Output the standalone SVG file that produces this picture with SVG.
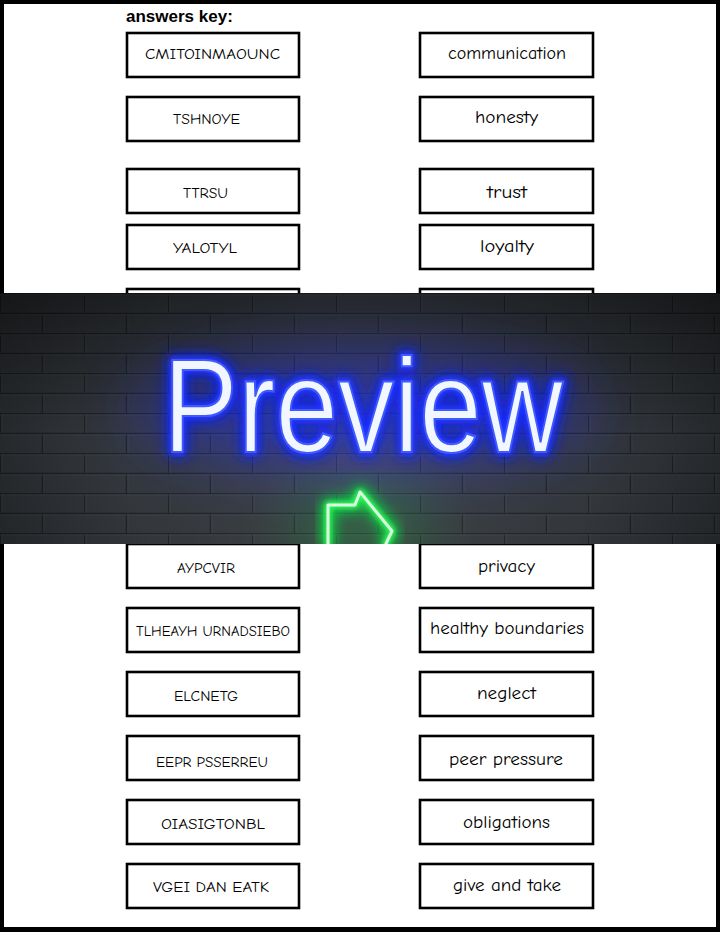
<svg xmlns="http://www.w3.org/2000/svg" width="720" height="932" viewBox="0 0 720 932">
<style>
.box{fill:#fff;stroke:#000;stroke-width:2.6}
.q{font-family:"Comic Sans MS","Comic Neue","Noto Sans","Liberation Sans",sans-serif;font-size:13.5px;fill:#000;text-anchor:start}
.a{font-family:"Comic Sans MS","Comic Neue","Noto Sans","Liberation Sans",sans-serif;font-size:17px;fill:#000;text-anchor:start}
.title{font-family:"Liberation Sans","Arial",sans-serif;font-weight:bold;font-size:17px;fill:#000}
.neon{font-family:"Liberation Sans",Arial,sans-serif;font-size:134px}
</style>
<defs>
<pattern id="bricks" x="0" y="293" width="84" height="40" patternUnits="userSpaceOnUse">
<rect width="84" height="40" fill="#383c41"/>
<path d="M0 0.5H84M0 20.5H84M0.5 0V20M42.5 20V40" stroke="#23262a" stroke-width="1.5" fill="none"/>
<path d="M0 2H84M0 22H84M2 1V20M44 21V40" stroke="#44494f" stroke-width="0.7" fill="none"/>
</pattern>
<radialGradient id="shade" cx="360" cy="450" r="420" gradientUnits="userSpaceOnUse">
<stop offset="0" stop-color="#ffffff" stop-opacity="0.10"/>
<stop offset="0.55" stop-color="#000000" stop-opacity="0.05"/>
<stop offset="1" stop-color="#000000" stop-opacity="0.45"/>
</radialGradient>
<linearGradient id="vshade" x1="0" y1="293" x2="0" y2="544" gradientUnits="userSpaceOnUse">
<stop offset="0" stop-color="#000" stop-opacity="0.4"/>
<stop offset="0.55" stop-color="#000" stop-opacity="0"/>
<stop offset="1" stop-color="#000" stop-opacity="0.05"/>
</linearGradient>
<filter id="glow" x="-20%" y="-40%" width="140%" height="180%">
<feGaussianBlur stdDeviation="7"/>
</filter>
<filter id="glow2" x="-20%" y="-40%" width="140%" height="180%">
<feGaussianBlur stdDeviation="2.5"/>
</filter>
<filter id="wide" x="-50%" y="-50%" width="200%" height="200%">
<feGaussianBlur stdDeviation="30"/>
</filter>
<clipPath id="banner"><rect x="0" y="293" width="720" height="251"/></clipPath>
</defs>

<rect x="0" y="0" width="720" height="932" fill="#000"/>
<rect x="4" y="4" width="712" height="923" fill="#fff"/>

<text class="title" x="126" y="22">answers key:</text>

<g id="nodes">
<g id="q1"><rect class="box" x="127" y="33" width="172" height="44"/><text class="q" x="145" y="59" textLength="135" lengthAdjust="spacingAndGlyphs">CMITOINMAOUNC</text></g>
<g id="a1"><rect class="box" x="420" y="33" width="173" height="44"/><text class="a" x="448" y="59" textLength="118" lengthAdjust="spacingAndGlyphs">communication</text></g>
<g id="q2"><rect class="box" x="127" y="97" width="172" height="44"/><text class="q" x="173" y="124" textLength="67" lengthAdjust="spacingAndGlyphs">TSHNOYE</text></g>
<g id="a2"><rect class="box" x="420" y="97" width="173" height="44"/><text class="a" x="475" y="123" textLength="63" lengthAdjust="spacingAndGlyphs">honesty</text></g>
<g id="q3"><rect class="box" x="127" y="169" width="172" height="44"/><text class="q" x="183" y="198" textLength="45" lengthAdjust="spacingAndGlyphs">TTRSU</text></g>
<g id="a3"><rect class="box" x="420" y="169" width="173" height="44"/><text class="a" x="487" y="198" textLength="40" lengthAdjust="spacingAndGlyphs">trust</text></g>
<g id="q4"><rect class="box" x="127" y="225" width="172" height="44"/><text class="q" x="173" y="253" textLength="64" lengthAdjust="spacingAndGlyphs">YALOTYL</text></g>
<g id="a4"><rect class="box" x="420" y="225" width="173" height="44"/><text class="a" x="480" y="252" textLength="54" lengthAdjust="spacingAndGlyphs">loyalty</text></g>
<g id="q5"><rect class="box" x="127" y="289" width="172" height="44"/></g>
<g id="a5"><rect class="box" x="420" y="289" width="173" height="44"/></g>
<g id="q9"><rect class="box" x="127" y="544" width="172" height="44"/><text class="q" x="177" y="573" textLength="58" lengthAdjust="spacingAndGlyphs">AYPCVIR</text></g>
<g id="a9"><rect class="box" x="420" y="544" width="173" height="44"/><text class="a" x="478" y="572" textLength="57" lengthAdjust="spacingAndGlyphs">privacy</text></g>
<g id="q10"><rect class="box" x="127" y="608" width="172" height="44"/><text class="q" x="136" y="636" textLength="154" lengthAdjust="spacingAndGlyphs">TLHEAYH URNADSIEBO</text></g>
<g id="a10"><rect class="box" x="420" y="608" width="173" height="44"/><text class="a" x="430" y="634" textLength="154" lengthAdjust="spacingAndGlyphs">healthy boundaries</text></g>
<g id="q11"><rect class="box" x="127" y="672" width="172" height="44"/><text class="q" x="174" y="701" textLength="64" lengthAdjust="spacingAndGlyphs">ELCNETG</text></g>
<g id="a11"><rect class="box" x="420" y="672" width="173" height="44"/><text class="a" x="477" y="699" textLength="59" lengthAdjust="spacingAndGlyphs">neglect</text></g>
<g id="q12"><rect class="box" x="127" y="736" width="172" height="44"/><text class="q" x="156" y="767" textLength="112" lengthAdjust="spacingAndGlyphs">EEPR PSSERREU</text></g>
<g id="a12"><rect class="box" x="420" y="736" width="173" height="44"/><text class="a" x="449" y="765" textLength="114" lengthAdjust="spacingAndGlyphs">peer pressure</text></g>
<g id="q13"><rect class="box" x="127" y="800" width="172" height="44"/><text class="q" x="161" y="829" textLength="104" lengthAdjust="spacingAndGlyphs">OIASIGTONBL</text></g>
<g id="a13"><rect class="box" x="420" y="800" width="173" height="44"/><text class="a" x="463" y="828" textLength="87" lengthAdjust="spacingAndGlyphs">obligations</text></g>
<g id="q14"><rect class="box" x="127" y="864" width="172" height="44"/><text class="q" x="153" y="892" textLength="116" lengthAdjust="spacingAndGlyphs">VGEI DAN EATK</text></g>
<g id="a14"><rect class="box" x="420" y="864" width="173" height="44"/><text class="a" x="453" y="891" textLength="108" lengthAdjust="spacingAndGlyphs">give and take</text></g>
</g>

<g id="connectors"/>

<g id="preview-banner" clip-path="url(#banner)">
<rect x="0" y="293" width="720" height="251" fill="url(#bricks)"/>
<rect x="0" y="293" width="720" height="251" fill="url(#vshade)"/>
<rect x="0" y="293" width="720" height="251" fill="url(#shade)"/>
<ellipse cx="363" cy="410" rx="230" ry="60" fill="#1a2aff" opacity="0.4" filter="url(#wide)"/>
<ellipse cx="360" cy="530" rx="70" ry="30" fill="#10c040" opacity="0.35" filter="url(#wide)"/>
<text class="neon" x="163" y="452" textLength="400" lengthAdjust="spacingAndGlyphs" fill="#1020ff" stroke="#1020ff" stroke-width="9" filter="url(#glow)">Preview</text>
<text class="neon" x="163" y="452" textLength="400" lengthAdjust="spacingAndGlyphs" fill="#2a3cff" stroke="#2a3cff" stroke-width="4" filter="url(#glow2)">Preview</text>
<text class="neon" x="163" y="452" textLength="400" lengthAdjust="spacingAndGlyphs" fill="#f2f6ff" stroke="#3d5bff" stroke-width="2.2" paint-order="normal">Preview</text>
<polyline points="328,548 328,505 355,505 360,492 392,531 384,548" fill="none" stroke="#10e040" stroke-width="12" stroke-linejoin="round" filter="url(#glow)"/>
<polyline points="328,548 328,505 355,505 360,492 392,531 384,548" fill="none" stroke="#30ff60" stroke-width="6" stroke-linejoin="round" filter="url(#glow2)"/>
<polyline points="328,548 328,505 355,505 360,492 392,531 384,548" fill="none" stroke="#d8ffe0" stroke-width="3" stroke-linejoin="round"/>
</g>
</svg>
